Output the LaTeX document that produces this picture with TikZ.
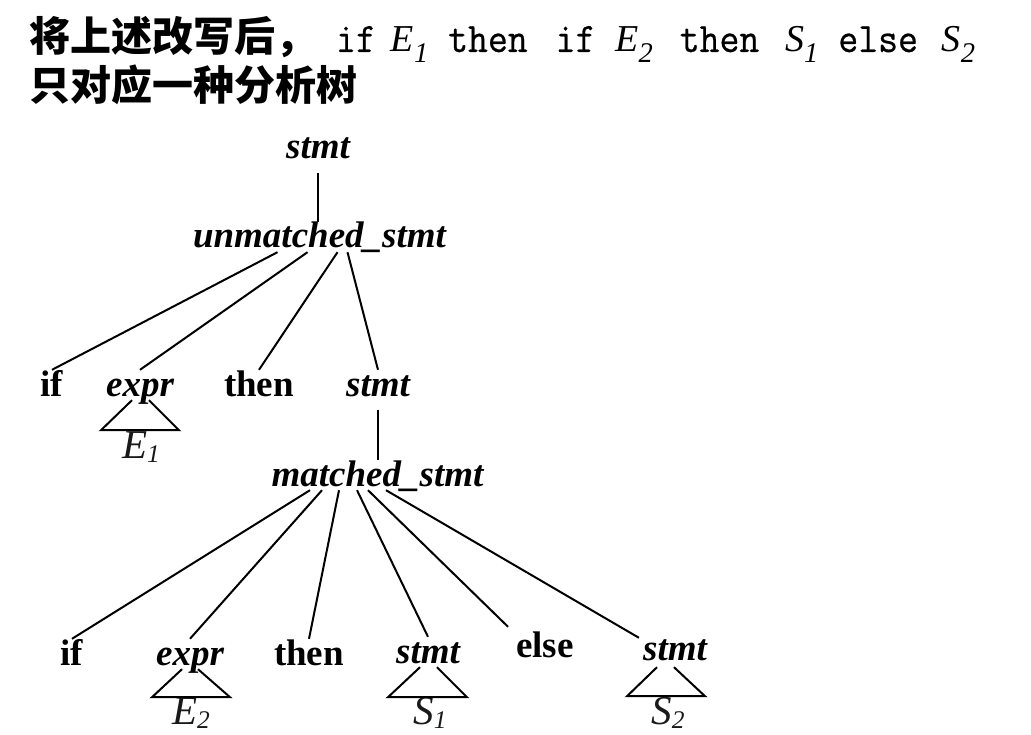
\documentclass[tikz,border=0pt]{standalone}
\usepackage{fontspec}
\setmainfont{Liberation Serif}
\newfontfamily\cjkfont{Noto Sans CJK SC}
\newfontfamily\kwfont[FakeStretch=0.92,FakeBold=0.6]{Latin Modern Mono}
\usetikzlibrary{positioning}
\newcommand{\kw}[1]{{\kwfont\fontsize{42}{48}\selectfont#1}}
\newcommand{\titlevar}[2]{{\rmfamily\itshape\fontsize{38}{48}\selectfont #1\raisebox{-0.28em}{\scalebox{0.75}{#2}}}}
\newcommand{\leafvar}[2]{{\rmfamily\itshape #1\raisebox{-0.1em}{\scalebox{0.62}{#2}}}}
\tikzset{
	nonterm/.style={anchor=base, inner sep=0pt, text height=26pt, text depth=4pt, font=\fontsize{37}{44}\selectfont\bfseries\itshape},
	term/.style={anchor=base, inner sep=0pt, text height=26pt, text depth=4pt, font=\fontsize{37}{44}\selectfont\bfseries},
	leaf/.style={anchor=base, inner sep=0pt, font=\fontsize{41}{44}\selectfont, text=black!90},
	edge/.style={line width=2pt},
}
\begin{document}
\begin{tikzpicture}[x=1pt, y=-1pt]
		\useasboundingbox (0,0) rectangle (1031,735);

		% title
		\node[anchor=base west, inner sep=0pt](titleOne) at (29,52){{\cjkfont\bfseries\fontsize{41}{48}\selectfont 将上述改写后，}\kw{ if }\hspace{-5pt}\titlevar{E}{1}\kw{ then }\hspace{8pt}\kw{if }\titlevar{E}{2}\hspace{7pt}\kw{ then }\hspace{6pt}\titlevar{S}{1}\kw{ else }\hspace{4pt}\titlevar{S}{2}};
		\node[anchor=base west, inner sep=0pt, font=\fontsize{41}{48}\selectfont](titleTwo) at (29,101){\cjkfont\bfseries 只对应一种分析树};

		% tree nodes
		\node[nonterm](stmtTop) at (318,159){stmt};
		\node[nonterm](unmatched) at (319.5,248){unmatched\_stmt};

		\node[term](ifA) at (52,396){if};
		\node[nonterm](exprA) at (140,396){expr};
		\node[term](thenA) at (259,396){then};
		\node[nonterm](stmtA) at (378,396){stmt};

		\node[nonterm](matched) at (377.5,486){matched\_stmt};

		\node[term](ifB) at (72,665){if};
		\node[nonterm](exprB) at (190,665){expr};
		\node[term](thenB) at (309,665){then};
		\node[nonterm](stmtB) at (428,663){stmt};
		\node[term](elseB) at (545,657){else};
		\node[nonterm](stmtC) at (675,660){stmt};

		% leaf labels
		\node[leaf](eOne) at (141,458){\leafvar{E}{1}};
		\node[leaf](eTwo) at (191,724){\leafvar{E}{2}};
		\node[leaf](sOne) at (430,724){\leafvar{S}{1}};
		\node[leaf](sTwo) at (668,724){\leafvar{S}{2}};

		% draw tree edges
		\draw[edge] ([yshift=-10pt]stmtTop.south) -- (stmtTop.south |- unmatched.north);
		\draw[edge] ([xshift=-42pt]unmatched.south) -- (ifA.north);
		\draw[edge] ([xshift=-12pt]unmatched.south) -- (exprA.north);
		\draw[edge] ([xshift=18pt]unmatched.south) -- (thenA.north);
		\draw[edge] ([xshift=28pt]unmatched.south) -- (stmtA.north);

		\draw[edge] ([yshift=-10pt]stmtA.south) -- (stmtA.south |- matched.north);
		\draw[edge] ([xshift=-67.5pt]matched.south) -- (ifB.north);
		\draw[edge] ([xshift=-55.5pt]matched.south) -- (exprB.north);
		\draw[edge] ([xshift=-38.5pt]matched.south) -- (thenB.north);
		\draw[edge] ([xshift=-20.5pt]matched.south) -- (stmtB.north);
		\draw[edge] ([xshift=-9.5pt]matched.south) -- ([xshift=-8pt,yshift=4pt]elseB.north west);
		\draw[edge] ([xshift=8.5pt]matched.south) -- ([xshift=-4pt,yshift=-4pt]stmtC.north west);

		% draw subtree triangles
		\draw[edge] ([xshift=-8pt]exprA.south) -- ++(-31,30) -- ++(78,0) -- ([xshift=9pt]exprA.south);
		\draw[edge] ([xshift=-8pt]exprB.south) -- ++(-30,28) -- ++(78,0) -- ([xshift=8pt]exprB.south);
		\draw[edge] ([xshift=-8pt]stmtB.south) -- ++(-32,30) -- ++(79,0) -- ([xshift=9pt]stmtB.south);
		\draw[edge] ([xshift=-18pt,yshift=-3pt]stmtC.south) -- ++(-30,29) -- ++(78,0) -- ([xshift=-1pt,yshift=-3pt]stmtC.south);
	\end{tikzpicture}
\end{document}
